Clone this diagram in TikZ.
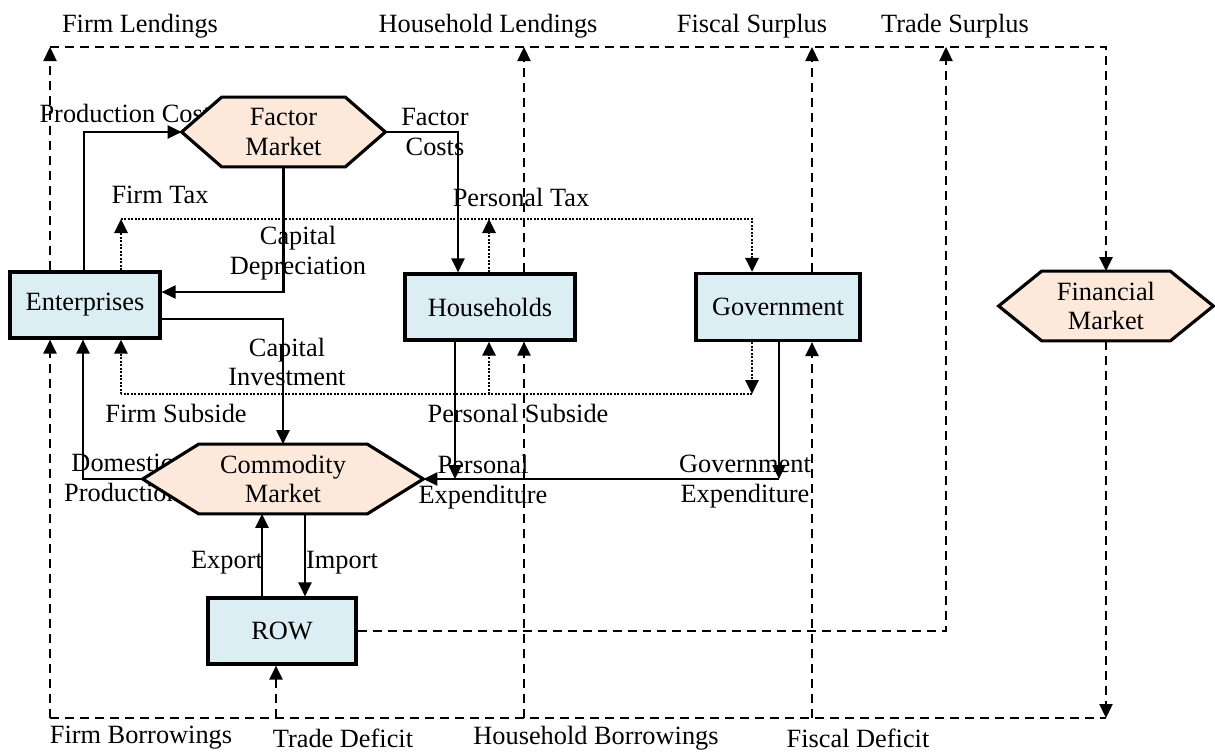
\documentclass[tikz,border=0pt]{standalone}
\usepackage{fontspec}
\setmainfont{Liberation Serif}
\usetikzlibrary{arrows.meta,calc}
\pgfdeclarelayer{lab}
\pgfdeclarelayer{hex}
\pgfsetlayers{lab,hex,main}
\definecolor{boxblue}{HTML}{DAEEF3}
\definecolor{hexpeach}{HTML}{FDE9D9}
\tikzset{
  every node/.style={font=\fontsize{15pt}{17pt}\selectfont},
  box/.style={draw, line width=1.8pt, fill=boxblue, inner sep=0pt},
  hexnode/.style={inner sep=0pt, align=center},
  hexline/.style={draw, line width=1.8pt, fill=hexpeach, line join=miter},
  lbl/.style={inner sep=0pt, align=center},
  tip/.style={-{Triangle[length=0.28cm,width=0.26cm]}},
  flow/.style={line width=1.35pt, tip},
  dot/.style={line width=1.6pt, dash pattern=on 0.04cm off 0.03cm},
  dotarrow/.style={dot, tip},
  dsh/.style={line width=1.35pt, dash pattern=on 0.18cm off 0.12cm},
  dsharrow/.style={dsh, tip},
}
\newcommand{\hexbg}[2]{%
  \begin{pgfonlayer}{hex}
  \path[hexline] (#1.west) -- ([xshift=#2]#1.north west) -- ([xshift=-#2]#1.north east) -- (#1.east) -- ([xshift=-#2]#1.south east) -- ([xshift=#2]#1.south west) -- cycle;
  \end{pgfonlayer}}
\begin{document}
\begin{tikzpicture}[x=0.02cm, y=-0.02cm]
\useasboundingbox (0,0) rectangle (1215,752);

% nodes
\node[box, minimum width=3cm, minimum height=1.32cm] (ent) at (85,305) {Enterprises};
\node[box, minimum width=3.4cm, minimum height=1.32cm] (hh) at (490,307) {Households};
\node[box, minimum width=3.28cm, minimum height=1.34cm] (gov) at (778,307) {Government};
\node[box, minimum width=2.96cm, minimum height=1.32cm] (row) at (282,631) {ROW};
\node[hexnode, minimum width=4.06cm, minimum height=1.38cm] (fm) at (283.5,132) {Factor\\Market};
\node[hexnode, minimum width=5.6cm, minimum height=1.38cm] (cm) at (283,479) {Commodity\\Market};
\node[hexnode, minimum width=4.28cm, minimum height=1.38cm] (finm) at (1106,306) {Financial\\Market};
\hexbg{fm}{0.8cm}
\hexbg{cm}{1.12cm}
\hexbg{finm}{0.86cm}

% labels
\begin{pgfonlayer}{lab}
\node[lbl] (l1) at (140,26) {Firm Lendings};
\node[lbl] (l2) at (488,26) {Household Lendings};
\node[lbl] (l3) at (752,26) {Fiscal Surplus};
\node[lbl] (l4) at (955,26) {Trade Surplus};
\node[lbl] (l5) at (130,113) {Production Costs};
\node[lbl] (l6) at (435,132) {Factor\\Costs};
\node[lbl] (l7) at (160,195) {Firm Tax};
\node[lbl] (l8) at (521,197) {Personal Tax};
\node[lbl] (l9) at (298,253) {Capital\\Depreciation};
\node[lbl] (l10) at (287,362) {Capital\\Investment};
\node[lbl] (l11) at (176,413) {Firm Subside};
\node[lbl] (l12) at (518,413) {Personal Subside};
\node[lbl] (l13) at (122,478) {Domestic\\Production};
\node[lbl] (l14) at (483,482) {Personal\\Expenditure};
\node[lbl] (l15) at (745,482) {Government\\Expenditure};
\node[lbl] (l16) at (227,563) {Export};
\node[lbl] (l17) at (342,563) {Import};
\node[lbl] (l18) at (141,738) {Firm Borrowings};
\node[lbl] (l19) at (343,738) {Trade Deficit};
\node[lbl] (l20) at (596,738) {Household Borrowings};
\node[lbl] (l21) at (858,738) {Fiscal Deficit};
\end{pgfonlayer}

% helper coordinates
\coordinate (top) at (0,47);
\coordinate (bot) at (0,718);
\coordinate (taxline) at (0,219);
\coordinate (subline) at (0,394);
\coordinate (ts) at (946,0);

% solid flows
\draw[flow] ([xshift=-0.02cm]ent.north) |- (fm.west);
\draw[flow] (fm.east) -| ([xshift=-0.64cm]hh.north);
\draw[flow] (fm.south) |- ([yshift=0.26cm]ent.east);
\draw[flow] ([yshift=-0.28cm]ent.east) -| (cm.north);
\draw[flow] (cm.west) -| ([xshift=-0.04cm]ent.south);
\coordinate (pe) at ([xshift=-0.7cm]hh.south);
\draw[flow] (pe) -- (pe |- cm.east);
\coordinate (ge) at ([xshift=0.02cm]gov.south);
\draw[flow] (ge) -- (ge |- cm.east);
\draw[flow] (ge |- cm.east) -- (cm.east);
\coordinate (ex) at ([xshift=-0.4cm]row.north);
\draw[flow] (ex) -- (ex |- cm.south);
\coordinate (im) at ([xshift=0.46cm]row.north);
\draw[flow] (im |- cm.south) -- (im);

% taxes (dotted)
\coordinate (ftx) at ([xshift=0.72cm]ent.north);
\coordinate (ptx) at ([xshift=-0.02cm]hh.north);
\coordinate (gtx) at ([xshift=-0.52cm]gov.north);
\draw[dotarrow] (ftx) -- (ftx |- taxline);
\draw[dotarrow] (ftx |- taxline) -- (gtx |- taxline) -- (gtx);
\draw[dotarrow] (ptx) -- (ptx |- taxline);

% subsidies (dotted)
\coordinate (fsb) at ([xshift=0.72cm]ent.south);
\coordinate (psb) at ([xshift=-0.02cm]hh.south);
\coordinate (gsb) at ([xshift=-0.52cm]gov.south);
\draw[dotarrow] (gsb) -- (gsb |- subline);
\draw[dot] (gsb |- subline) -- (fsb |- subline);
\draw[dotarrow] (fsb |- subline) -- (fsb);
\draw[dotarrow] (psb |- subline) -- (psb);

% financial flows (dashed)
\coordinate (fl) at ([xshift=-0.7cm]ent.north);
\coordinate (fb) at ([xshift=-0.7cm]ent.south);
\coordinate (hl) at ([xshift=0.68cm]hh.north);
\coordinate (hb) at ([xshift=0.68cm]hh.south);
\coordinate (gl) at ([xshift=0.68cm]gov.north);
\coordinate (gb) at ([xshift=0.68cm]gov.south);
\coordinate (td) at ([xshift=-0.12cm]row.south);
\draw[dsharrow] (fl) -- (fl |- top);
\draw[dsharrow] (hl) -- (hl |- top);
\draw[dsharrow] (gl) -- (gl |- top);
\draw[dsharrow] (row.east) -| (ts |- top);
\draw[dsharrow] (fl |- top) -| (finm.north);
\draw[dsh] (fb |- bot) -- (finm.south |- bot);
\draw[dsharrow] (finm.south) -- (finm.south |- bot);
\draw[dsharrow] (fb |- bot) -- (fb);
\draw[dsharrow] (hb |- bot) -- (hb);
\draw[dsharrow] (gb |- bot) -- (gb);
\draw[dsharrow] (td |- bot) -- (td);
\end{tikzpicture}
\end{document}
